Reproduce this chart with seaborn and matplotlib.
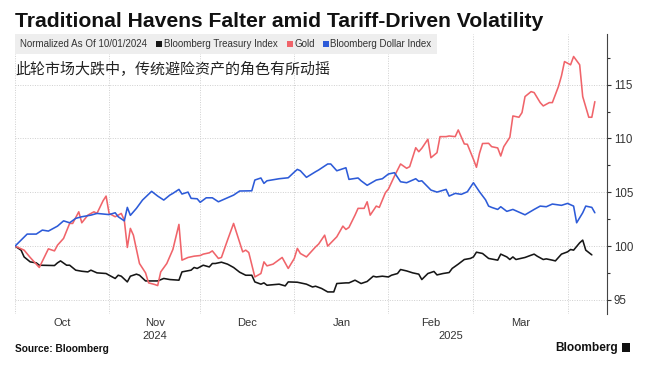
import pandas as pd
import matplotlib.pyplot as plt
import matplotlib.transforms as mtransforms
from matplotlib.patches import Rectangle
from matplotlib.ticker import MultipleLocator, FixedLocator, NullFormatter
import matplotlib.dates as mdates
import seaborn as sns

# Index levels normalized to 100 on 10/01/2024, x = days since that date
start = pd.Timestamp("2024-10-01")

treasury_day = [0, 2, 3, 5, 7, 8, 13, 14, 15, 17, 18, 20, 22, 24, 25, 27, 30, 31, 33, 34,
                35, 37, 38, 40, 41, 43, 47, 49, 51, 54, 55, 58, 59, 60, 62, 64, 65, 66, 68, 70,
                72, 74, 76, 78, 79, 81, 82, 83, 87, 89, 90, 93, 96, 98, 99, 101, 103, 105, 106, 109,
                110, 112, 114, 116, 118, 119, 121, 123, 124, 126, 127, 129, 131, 133, 134, 136, 138, 139, 141, 143,
                144, 146, 148, 150, 151, 152, 154, 156, 159, 160, 162, 163, 164, 165, 168, 170, 171, 172, 174, 175,
                177, 178, 180, 182, 183, 184, 186, 187, 188, 190]
treasury_val = [100.0, 99.63, 99.0, 98.54, 98.45, 98.23, 98.2, 98.45, 98.63, 98.23, 98.23, 97.77, 97.67, 97.61, 97.77, 97.52, 97.46, 97.3, 97.0, 97.3,
                97.21, 96.68, 97.21, 97.4, 97.3, 96.77, 96.77, 97.0, 96.9, 96.84, 97.61, 97.77, 98.02, 97.93, 98.23, 98.07, 98.39, 98.39, 98.51, 98.33,
                98.02, 97.58, 97.3, 97.3, 96.68, 96.47, 96.59, 96.37, 96.47, 96.31, 96.68, 96.65, 96.47, 96.21, 96.28, 96.07, 95.75, 95.75, 96.53, 96.59,
                96.59, 96.84, 96.53, 96.72, 97.21, 97.14, 97.21, 97.14, 97.3, 97.46, 97.83, 97.7, 97.52, 97.4, 96.9, 97.46, 97.65, 97.33, 97.46, 97.55,
                97.93, 98.33, 98.76, 98.86, 99.0, 99.44, 99.32, 98.86, 98.7, 99.26, 99.0, 98.76, 99.0, 98.76, 98.95, 99.16, 99.26, 99.07, 98.76, 98.82,
                98.7, 98.63, 99.26, 99.47, 99.69, 99.63, 100.31, 100.56, 99.63, 99.19]

gold_day = [0, 3, 5, 8, 11, 13, 14, 16, 18, 19, 21, 22, 24, 26, 27, 29, 30, 31, 33, 34,
            35, 36, 37, 38, 39, 41, 43, 44, 46, 47, 48, 50, 52, 54, 55, 57, 59, 61, 62, 64,
            65, 67, 68, 70, 72, 75, 76, 77, 79, 81, 82, 83, 85, 88, 90, 92, 93, 94, 96, 99,
            100, 102, 103, 106, 108, 109, 110, 112, 113, 115, 116, 117, 119, 120, 122, 123, 125, 127, 129, 130,
            132, 133, 134, 136, 137, 139, 140, 142, 143, 145, 146, 148, 149, 151, 152, 153, 154, 156, 157, 159,
            160, 161, 163, 164, 166, 167, 168, 170, 171, 173, 174, 176, 177, 179, 180, 181, 183, 184, 186, 187,
            189, 190, 191]
gold_val = [100.0, 99.63, 98.95, 98.02, 99.75, 99.56, 100.09, 100.72, 102.11, 102.11, 103.19, 102.17, 102.88, 103.19, 103.04, 104.21, 104.65, 103.04, 102.73, 102.88,
            103.04, 102.42, 99.88, 101.65, 101.02, 98.39, 97.52, 96.59, 96.44, 96.34, 97.61, 98.39, 99.69, 102.02, 98.7, 98.95, 99.07, 99.13, 99.26, 99.38,
            99.56, 98.86, 98.95, 100.56, 102.11, 99.47, 99.63, 99.41, 97.14, 97.46, 98.54, 98.17, 98.33, 98.95, 97.93, 98.86, 99.79, 99.32, 99.0, 99.93,
            100.19, 101.02, 100.0, 100.87, 101.86, 101.55, 101.74, 102.88, 103.51, 103.51, 104.12, 102.88, 103.72, 103.6, 104.96, 105.3, 106.51, 107.63, 107.23, 107.38,
            109.14, 108.77, 109.09, 109.93, 108.21, 108.68, 110.17, 110.17, 110.23, 110.17, 110.79, 109.49, 109.46, 108.07, 107.32, 108.62, 109.53, 109.55, 109.24, 109.12,
            108.37, 109.24, 110.11, 112.09, 111.97, 112.4, 113.89, 114.35, 114.26, 113.33, 113.02, 113.33, 113.33, 114.82, 115.81, 117.14, 116.84, 117.61, 116.84, 113.89,
            111.97, 111.97, 113.42]

dollar_day = [0, 4, 7, 9, 11, 14, 16, 18, 20, 22, 25, 27, 31, 33, 34, 36, 37, 38, 40, 42,
              45, 47, 49, 51, 52, 54, 55, 57, 58, 60, 61, 63, 65, 67, 69, 72, 74, 78, 79, 81,
              82, 83, 87, 90, 92, 93, 94, 96, 99, 100, 103, 104, 106, 109, 110, 113, 114, 116, 119, 121,
              123, 125, 127, 129, 132, 133, 134, 137, 139, 142, 143, 145, 147, 149, 151, 153, 155, 156, 157, 159,
              160, 162, 164, 168, 171, 173, 175, 177, 180, 182, 184, 185, 187, 188, 190, 191]
dollar_val = [100.0, 101.12, 101.12, 101.49, 101.4, 101.86, 102.35, 102.17, 102.58, 102.73, 102.88, 103.04, 102.93, 103.1, 102.73, 102.35, 103.6, 102.86, 103.51, 104.28,
              105.09, 104.65, 104.28, 104.74, 104.9, 105.27, 104.84, 105.02, 104.44, 104.4, 104.07, 104.49, 104.49, 104.12, 104.37, 104.74, 105.12, 105.14, 106.14, 106.33,
              105.83, 106.07, 106.26, 106.35, 106.88, 107.13, 107.0, 106.39, 106.91, 107.07, 107.63, 107.63, 107.0, 107.28, 106.2, 106.33, 106.07, 105.65, 106.14, 106.26,
              106.7, 106.82, 105.98, 105.89, 106.26, 106.02, 106.07, 105.21, 105.02, 105.27, 104.65, 104.9, 104.81, 105.05, 105.89, 105.05, 104.3, 103.72, 103.6, 103.41,
              103.66, 103.23, 103.41, 102.91, 103.41, 103.72, 103.66, 103.91, 103.79, 103.97, 103.72, 102.17, 103.1, 103.72, 103.6, 103.1]

series_names = ["Bloomberg Treasury Index", "Gold", "Bloomberg Dollar Index"]
series_colors = ["#161616", "#f0646a", "#2d5bd8"]
month_labels = ["Oct", "Nov", "Dec", "Jan", "Feb", "Mar"]
year_labels = ["2024", "2025"]
y_ticks = [95, 100, 105, 110, 115]

title = "Traditional Havens Falter amid Tariff-Driven Volatility"
subtitle = "此轮市场大跌中，传统避险资产的角色有所动摇"
legend_note = "Normalized As Of 10/01/2024"

# Long-form table for seaborn
frames = []
for name, days, vals in zip(series_names,
                            [treasury_day, gold_day, dollar_day],
                            [treasury_val, gold_val, dollar_val]):
    frames.append(pd.DataFrame({
        "date": start + pd.to_timedelta(days, unit="D"),
        "value": vals,
        "series": name,
    }))
df = pd.concat(frames, ignore_index=True)

sns.set_style("white")
plt.rcParams["font.family"] = ["Liberation Sans", "DejaVu Sans"]

W, H = 653, 375
fig = plt.figure(figsize=(W / 100, H / 100), dpi=100)
ax = fig.add_axes([15 / W, (H - 314) / H, (607 - 15) / W, (314 - 34) / H])

def px(x, y):
    # pixel position (top-left origin) -> figure fraction
    return x / W, 1 - y / H

sns.lineplot(data=df, x="date", y="value", hue="series", hue_order=series_names,
             palette=dict(zip(series_names, series_colors)), estimator=None, sort=False,
             linewidth=1.15, legend=False, ax=ax)

x_end = start + pd.Timedelta(days=195)
ax.set_xlim(start, x_end)
ax.set_ylim(93.7, 119.7)
ax.set_xlabel("")
ax.set_ylabel("")

# month boundaries -> gridlines, month labels centered in between
bounds = pd.date_range("2024-10-01", "2025-04-01", freq="MS")
mids = [a + (b - a) / 2 for a, b in zip(bounds[:-1], bounds[1:])]
ax.xaxis.set_major_locator(FixedLocator(mdates.date2num(bounds)))
ax.xaxis.set_major_formatter(NullFormatter())
ax.xaxis.set_minor_locator(FixedLocator(mdates.date2num(mids)))
ax.set_xticklabels(month_labels, minor=True)
ax.tick_params(axis="x", which="both", length=0, labelsize=8, colors="#333333", pad=3)

ax.yaxis.tick_right()
ax.set_yticks(y_ticks)
ax.yaxis.set_minor_locator(MultipleLocator(2.5))
ax.tick_params(axis="y", which="major", direction="out", length=3, width=0.8,
               colors="#333333", labelsize=8.3, pad=2)
ax.tick_params(axis="y", which="minor", direction="out", length=2, width=0.8, colors="#333333")

ax.grid(which="major", linestyle=(0, (1, 1.5)), color="#cfcfcf", linewidth=0.7)
for side in ["left", "top", "bottom"]:
    ax.spines[side].set_visible(False)
ax.spines["right"].set_color("#444444")
ax.spines["right"].set_linewidth(0.8)

# year labels under the months
trans = mtransforms.blended_transform_factory(ax.transData, ax.transAxes)
jan1 = pd.Timestamp("2025-01-01")
year_pos = [start + (jan1 - start) / 2, jan1 + (x_end - jan1) / 2]
for yr, pos in zip(year_labels, year_pos):
    ax.text(pos, -0.078, yr, transform=trans, ha="center", va="center",
            fontsize=8, color="#333333")

# title and subtitle
fig.text(*px(15, 27), title, fontsize=15.2, fontweight="bold", color="#111111", va="baseline")
fig.text(*px(15, 70), subtitle, fontsize=10.8, color="#222222", va="center",
         family=["Noto Sans CJK SC", "DejaVu Sans"])

# legend bar
fig.add_artist(Rectangle(px(15, 54), 422 / W, 20 / H, transform=fig.transFigure,
                         facecolor="#eeeeee", edgecolor="none", zorder=2))
fig.text(*px(20.5, 44), legend_note, fontsize=7, color="#333333", va="center", zorder=3)
legend_x = [(156, 164), (287, 294.5), (323, 330.5)]
for (sq, tx), name, color in zip(legend_x, series_names, series_colors):
    fig.add_artist(Rectangle(px(sq, 47), 6 / W, 6 / H, transform=fig.transFigure,
                             facecolor=color, edgecolor="none", zorder=3))
    fig.text(*px(tx, 44), name, fontsize=7, color="#333333", va="center", zorder=3)

# footer
fig.text(*px(15, 349), "Source: Bloomberg", fontsize=7.3, fontweight="bold", color="#111111", va="center")
fig.text(*px(618, 347.5), "Bloomberg", fontsize=8.6, fontweight="bold", color="#111111",
         va="center", ha="right")
fig.add_artist(Rectangle(px(622, 352), 8 / W, 9 / H, transform=fig.transFigure,
                         facecolor="#111111", edgecolor="none"))

plt.savefig("out.png", dpi=100, facecolor="white")
